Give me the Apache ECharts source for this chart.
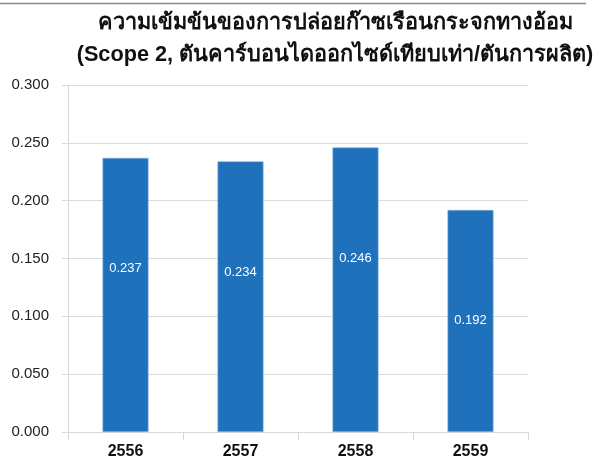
<!DOCTYPE html>
<html><head><meta charset="utf-8">
<script src="https://cdn.jsdelivr.net/npm/echarts@6/dist/echarts.min.js"></script>
<style>html,body{margin:0;padding:0;background:#fff}#c{width:595px;height:460px}</style>
</head><body><div id="c"></div>
<script>
const titleLines = ['ความเข้มข้นของการปล่อยก๊าซเรือนกระจกทางอ้อม', '(Scope 2, ตันคาร์บอนไดออกไซด์เทียบเท่า/ตันการผลิต)'];
const categories = ['2556', '2557', '2558', '2559'];
const values = [0.237, 0.234, 0.246, 0.192];
const yTicks = [0, 0.05, 0.1, 0.15, 0.2, 0.25, 0.3];

const chart = echarts.init(document.getElementById('c'), null, {renderer: 'canvas'});
chart.setOption({
  animation: false,
  backgroundColor: '#fff',
  title: {
    text: titleLines.join('\n'),
    left: 330, top: 2, textAlign: 'center',
    textStyle: {fontFamily: 'Liberation Sans, Noto Sans, sans-serif', fontSize: 21.7, fontWeight: 'bold', color: '#111', lineHeight: 32}
  },
  graphic: [{type: 'line', shape: {x1: 0, y1: 3.5, x2: 586, y2: 3.5}, style: {stroke: '#888', lineWidth: 1.5}}],
  grid: {left: 68, right: 67, top: 85, bottom: 25, containLabel: false},
  xAxis: {
    type: 'category', data: categories,
    axisLine: {show: true, lineStyle: {color: '#d9d9d9'}},
    axisTick: {show: true, length: 8, alignWithLabel: false, lineStyle: {color: '#d9d9d9'}},
    axisLabel: {color: '#111', fontSize: 16, fontWeight: 'bold', fontFamily: 'Liberation Sans, sans-serif', margin: 12}
  },
  yAxis: {
    type: 'value', min: yTicks[0], max: yTicks[yTicks.length - 1], interval: 0.05,
    axisLine: {show: true, lineStyle: {color: '#d9d9d9'}},
    axisTick: {show: true, length: 6, inside: false, lineStyle: {color: '#d9d9d9'}},
    splitLine: {show: true, lineStyle: {color: '#dcdcdc', width: 1}},
    axisLabel: {color: '#222', fontSize: 15, fontFamily: 'Liberation Sans, sans-serif', margin: 19,
      formatter: v => v.toFixed(3)}
  },
  series: [{
    type: 'bar', data: values, barWidth: '40%',
    itemStyle: {color: '#1f71bb', borderColor: '#8fb6e0', borderWidth: 0.6},
    label: {show: true, position: ['50%', 111], align: 'center', verticalAlign: 'middle',
      color: '#fff', fontSize: 13, fontFamily: 'Liberation Sans, sans-serif',
      formatter: p => p.value.toFixed(3)}
  }]
});
</script></body></html>
